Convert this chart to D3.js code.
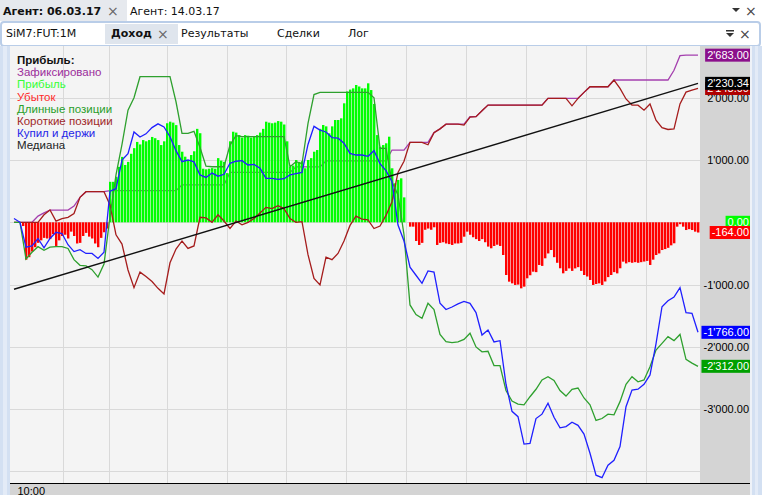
<!DOCTYPE html>
<html><head><meta charset="utf-8">
<script src="https://cdn.jsdelivr.net/npm/d3@7"></script>
<style>html,body{margin:0;padding:0;background:#fff;}svg{display:block;}</style>
</head><body>
<svg id="c" width="762" height="495"></svg>
<script>
// ---------------- DATA ----------------
const tabsTop = ["Агент: 06.03.17", "Агент: 14.03.17"];
const tabsSub = ["SiM7:FUT:1M", "Доход", "Результаты", "Сделки", "Лог"];
const legendTitle = "Прибыль:";
const seriesNames = ["Зафиксировано", "Прибыль", "Убыток", "Длинные позиции", "Короткие позиции", "Купил и держи", "Медиана"];
const seriesColors = ["#9b2d9b", "#33ff33", "#ff2a2a", "#2a9e2a", "#a02828", "#2626e8", "#222222"];
const timeLabels = ["10:00"];
const yTickValues = [2000, 1000, -1000, -2000, -3000];
const yGridValues = [-4000, -3000, -2000, -1000, 0, 1000, 2000];
const xGridIndex = [16.3, 31.7, 51, 71, 90.7, 110.7, 130.7, 150.7, 170.7, 190.7, 210.7];

// profit / loss bars, one per bar index
const barValues = [
0,0,0,-60,-600,-560,-470,-400,-330,-290,
-250,-260,-270,-190,-380,-290,-220,-200,-260,-150,
-220,-340,-330,-220,-170,-230,-260,-340,-400,-250,
-160,-100,650,650,730,890,1050,920,970,1100,
1190,1290,1250,1320,1300,1320,1370,1350,1320,1240,
1300,1590,1615,1600,1560,1240,1133,1053,1000,1080,
1140,1500,1430,860,850,860,870,860,1030,990,
970,790,1300,1454,1440,1400,1360,1400,1390,1360,
1380,1400,1440,1500,1615,1600,1590,1600,1625,1615,
1570,1300,892,910,1000,970,980,867,1000,1030,
1133,1160,1500,1562,1540,1428,1540,1642,1642,1669,
1910,2100,2130,2150,2204,2180,2150,2150,2231,2123,
1900,1400,1213,1240,1268,1374,867,626,680,706,
400,0,-70,-70,-300,-364,-330,-120,-100,-120,
-80,-364,-330,-320,-340,-350,-364,-340,-340,-330,
-231,-150,-200,-240,-270,-300,-270,-320,-390,-417,
-380,-360,-380,-525,-846,-953,-980,-1006,-1000,-1060,
-1033,-899,-850,-793,-800,-685,-700,-578,-500,-445,
-560,-650,-738,-819,-780,-740,-780,-740,-720,-780,
-846,-870,-926,-1006,-990,-980,-1006,-950,-880,-846,
-800,-820,-738,-632,-660,-640,-650,-640,-650,-640,
-630,-620,-685,-600,-525,-500,-445,-430,-410,-370,
-337,-70,-30,-70,-124,-110,-124,-150,-164];

// line series, one value every 2 bar indexes
const lineStep = 2;
const realizedValues = [
0,0,0,0,100,150,197,197,197,197,
260,400,491,491,491,491,507,507,507,507,
507,507,507,507,507,507,507,507,600,600,
600,600,600,600,600,600,800,800,800,800,
800,800,800,800,800,800,800,890,890,890,
890,890,985,985,985,985,985,985,985,985,
985,985,985,1160,1160,1160,1284,1284,1284,1284,
1440,1500,1575,1575,1575,1575,1695,1695,1790,1882,
1882,1882,1882,1882,1882,1882,1882,1882,1882,1990,
1990,1990,1990,1990,1990,2086,2176,2176,2176,2176,
2284,2284,2284,2284,2284,2284,2284,2284,2284,2284,
2440,2674,2683,2683,2683];
const longValues = [
0,0,-590,-480,-391,-450,-400,-391,-391,-420,
-600,-690,-701,-760,-880,-670,90,760,1250,1800,
2000,2337,2337,2337,2337,2337,2337,1935,1428,1428,
1460,1200,900,892,892,892,1240,1390,1374,1374,
1374,1374,1374,1374,1374,1374,892,973,940,1589,
2050,2086,2086,2086,2086,2086,2086,2086,2086,2086,
2000,1188,1188,650,440,-200,-1327,-1480,-1540,-1300,
-1400,-1800,-1916,-1930,-1920,-1880,-1780,-2000,-2080,-2070,
-2300,-2300,-2700,-2870,-2920,-2930,-2800,-2680,-2531,-2478,
-2540,-2700,-2790,-2680,-2660,-2820,-2930,-3180,-3150,-3080,
-3090,-2879,-2600,-2478,-2560,-2530,-2318,-2050,-1943,-1836,
-1900,-1800,-2200,-2260,-2312];
const shortValues = [
0,0,0,0,0,120,197,20,60,80,
140,400,491,491,491,491,278,-200,-350,-766,
-1050,-800,-870,-950,-1060,-1150,-650,-430,-300,-420,
-380,80,70,0,120,20,-100,20,-40,0,
60,150,240,220,266,220,60,0,10,-520,
-900,-1006,-560,-600,-500,-300,-50,100,50,40,
-100,-60,110,330,800,980,1284,1284,1284,1245,
1440,1500,1575,1575,1575,1560,1690,1695,1790,1882,
1882,1882,1882,1882,1882,1882,1882,1882,1882,1990,
1990,1990,1990,1870,1990,2086,2176,2176,2176,2176,
2284,2150,1980,1882,1880,1800,1900,1640,1518,1490,
1500,1900,2090,2120,2148];
const buyHoldValues = [
60,0,-400,-380,-260,-410,-260,-160,-180,-360,
-470,-440,-500,-500,-580,-480,500,540,1000,1100,
1450,1370,1420,1520,1580,1530,1374,1150,973,1000,
970,760,720,790,740,770,947,980,990,920,
930,870,706,706,690,700,760,780,800,1250,
1540,1480,1450,1360,1350,1270,1107,1080,1080,1060,
1150,940,830,652,-43,-300,-720,-850,-979,-780,
-800,-1300,-1400,-1360,-1310,-1270,-1300,-1450,-1809,-1730,
-1920,-1900,-2600,-3035,-3120,-3560,-3550,-3150,-3080,-2905,
-3130,-3300,-3280,-3210,-3260,-3400,-3707,-4060,-4100,-3900,
-3820,-3601,-2960,-2692,-2680,-2600,-2450,-1950,-1355,-1260,
-1200,-1050,-1450,-1460,-1766];
const medianValues = [-1075, 2230.34];

// ---------------- DRAW ----------------
const svg = d3.select("#c");
const W = 762, H = 495;
const plotL = 10, plotR = 700, plotT = 46, plotB = 483;
const x = d3.scaleLinear().domain([0, barValues.length - 1]).range([14, 698]);
const y = d3.scaleLinear().domain([-4185, 2814]).range([483, 47]);
const loc = d3.formatLocale({decimal: ".", thousands: "'", grouping: [3], currency: ["", ""], minus: "-"});
const fmt = loc.format(",.2f");
const tabFont = "DejaVu Sans, Verdana, sans-serif";
const chartFont = "Liberation Sans, Arial, sans-serif";

// window frame
svg.append("rect").attr("x", 0).attr("y", 0).attr("width", W).attr("height", H).attr("fill", "#ffffff");
svg.append("rect").attr("x", 0).attr("y", 0).attr("width", 127).attr("height", 21).attr("fill", "#e6e9ee");
svg.append("text").attr("x", 3).attr("y", 15).attr("font-family", tabFont).attr("font-size", 11).attr("font-weight", "bold").attr("fill", "#111").text(tabsTop[0]);
svg.append("text").attr("x", 107).attr("y", 16).attr("font-family", tabFont).attr("font-size", 14).attr("fill", "#666").text("×");
svg.append("text").attr("x", 130).attr("y", 15).attr("font-family", tabFont).attr("font-size", 11).attr("fill", "#111").text(tabsTop[1]);
svg.append("path").attr("d", "M732,8 L740,8 L736,12 Z").attr("fill", "#333");
svg.append("text").attr("x", 745).attr("y", 16).attr("font-family", tabFont).attr("font-size", 14).attr("fill", "#444").text("×");

// sub tab row
svg.append("rect").attr("x", 1).attr("y", 22).attr("width", 759).attr("height", 24).attr("rx", 3).attr("fill", "#ffffff").attr("stroke", "#b9cde8").attr("stroke-width", 2);
svg.append("rect").attr("x", 105).attr("y", 24).attr("width", 73).attr("height", 20).attr("fill", "#dfe5ed");
const subX = [6, 111, 181, 277, 348];
tabsSub.forEach((t, i) => {
  svg.append("text").attr("x", subX[i]).attr("y", 37).attr("font-family", tabFont).attr("font-size", 11)
    .attr("font-weight", i === 1 ? "bold" : "normal").attr("fill", "#111").text(t);
});
svg.append("text").attr("x", 157).attr("y", 39).attr("font-family", tabFont).attr("font-size", 14).attr("fill", "#666").text("×");
svg.append("rect").attr("x", 726).attr("y", 30).attr("width", 8).attr("height", 1.5).attr("fill", "#333");
svg.append("path").attr("d", "M726,33 L734,33 L730,37 Z").attr("fill", "#333");
svg.append("text").attr("x", 739).attr("y", 39).attr("font-family", tabFont).attr("font-size", 14).attr("fill", "#444").text("×");

// side borders
svg.append("rect").attr("x", 0).attr("y", 46).attr("width", 10).attr("height", H - 46).attr("fill", "#d3e0f2");
svg.append("rect").attr("x", 3).attr("y", 46).attr("width", 4).attr("height", H - 46).attr("fill", "#e3ebf7");
svg.append("rect").attr("x", 750).attr("y", 46).attr("width", 12).attr("height", H - 46).attr("fill", "#d3e0f2");
svg.append("rect").attr("x", 750).attr("y", 46).attr("width", 2).attr("height", H - 46).attr("fill", "#eef2f8");
svg.append("rect").attr("x", 755).attr("y", 46).attr("width", 3).attr("height", H - 46).attr("fill", "#e3ebf7");

// plot background, right panel, bottom band
svg.append("rect").attr("x", plotL).attr("y", plotT).attr("width", plotR - plotL).attr("height", plotB - plotT).attr("fill", "#f4f4f4");
svg.append("rect").attr("x", plotR).attr("y", plotT).attr("width", 750 - plotR).attr("height", plotB - plotT).attr("fill", "#d4d4d4");
svg.append("rect").attr("x", plotL).attr("y", 484).attr("width", 740).attr("height", 11).attr("fill", "#d4d4d4");
svg.append("line").attr("x1", plotL).attr("x2", 750).attr("y1", 483.5).attr("y2", 483.5).attr("stroke", "#000").attr("stroke-width", 1);

svg.append("defs").append("clipPath").attr("id", "clip").append("rect")
  .attr("x", plotL).attr("y", plotT).attr("width", plotR - plotL).attr("height", plotB - plotT);
const plot = svg.append("g").attr("clip-path", "url(#clip)");

// grid
plot.selectAll(".gy").data(yGridValues).enter().append("line")
  .attr("x1", plotL).attr("x2", plotR)
  .attr("y1", d => Math.round(y(d)) + 0.5).attr("y2", d => Math.round(y(d)) + 0.5)
  .attr("stroke", "#d9d9d9").attr("stroke-width", 1);
plot.selectAll(".gx").data(xGridIndex).enter().append("line")
  .attr("y1", plotT).attr("y2", plotB)
  .attr("x1", d => Math.round(x(d)) + 0.5).attr("x2", d => Math.round(x(d)) + 0.5)
  .attr("stroke", "#d9d9d9").attr("stroke-width", 1);

const lineGen = d3.line().x((d, j) => x(j * lineStep)).y(d => y(d));

// realized line (behind bars)
plot.append("path").datum(realizedValues).attr("d", lineGen).attr("fill", "none")
  .attr("stroke", "#a43fae").attr("stroke-width", 1.3);

// bars
plot.selectAll(".bar").data(barValues).enter().append("rect")
  .attr("x", (d, i) => x(i) - 1).attr("width", 2.4)
  .attr("y", d => Math.min(y(d), y(0)))
  .attr("height", d => Math.abs(y(d) - y(0)))
  .attr("fill", d => d >= 0 ? "#00ff00" : "#ff0000");

// lines
plot.append("path").datum(shortValues).attr("d", lineGen).attr("fill", "none")
  .attr("stroke", "#a51c1c").attr("stroke-width", 1.3);
plot.append("path").datum(longValues).attr("d", lineGen).attr("fill", "none")
  .attr("stroke", "#2ea02e").attr("stroke-width", 1.3);
plot.append("path").datum(buyHoldValues).attr("d", lineGen).attr("fill", "none")
  .attr("stroke", "#1f1fff").attr("stroke-width", 1.3);
plot.append("path").datum(medianValues)
  .attr("d", d3.line().x((d, j) => x(j * (barValues.length - 1))).y(d => y(d)))
  .attr("fill", "none").attr("stroke", "#111").attr("stroke-width", 1.4);

// legend
const lg = svg.append("g").attr("font-family", chartFont).attr("font-size", 11.5);
lg.append("text").attr("x", 17).attr("y", 64).attr("font-weight", "bold").attr("fill", "#111").text(legendTitle);
seriesNames.forEach((n, i) => {
  lg.append("text").attr("x", 17).attr("y", 76.2 + i * 12.15).attr("fill", seriesColors[i]).text(n);
});

// right axis
const yAxis = d3.axisLeft(y).tickValues(yTickValues).tickFormat(fmt).tickSize(0).tickPadding(1);
const ya = svg.append("g").attr("transform", "translate(750,0)").call(yAxis);
ya.select(".domain").remove();
ya.selectAll("text").attr("font-family", chartFont).attr("font-size", 11).attr("fill", "#000");

// bottom axis
const xAxis = d3.axisBottom(x).tickValues([0]).tickFormat(() => timeLabels[0]).tickSize(0).tickPadding(3);
const xa = svg.append("g").attr("transform", "translate(0,484)").call(xAxis);
xa.select(".domain").remove();
xa.selectAll("text").attr("font-family", chartFont).attr("font-size", 11).attr("fill", "#000")
  .attr("text-anchor", "start").attr("dx", 3);

// value tags on the right axis
const lastBar = barValues[barValues.length - 1];
const tags = [
  {v: realizedValues[realizedValues.length - 1], bg: "#8b0f8b"},
  {v: shortValues[shortValues.length - 1], bg: "#b00000"},
  {v: medianValues[1], bg: "#000000"},
  {v: Math.max(0, lastBar), bg: "#00ff00"},
  {v: Math.min(0, lastBar), bg: "#ff0000"},
  {v: buyHoldValues[buyHoldValues.length - 1], bg: "#0000ff"},
  {v: longValues[longValues.length - 1], bg: "#00a000"}
];
const tg = svg.append("g").attr("font-family", chartFont).attr("font-size", 11);
tags.forEach(t => {
  const g = tg.append("g");
  const r = g.append("rect").attr("fill", t.bg);
  const tx = g.append("text").attr("x", 749).attr("y", y(t.v)).attr("dy", "0.35em")
    .attr("text-anchor", "end").attr("fill", "#fff").text(fmt(t.v));
  const w = tx.node().getComputedTextLength();
  r.attr("x", 749 - w - 2).attr("width", w + 3).attr("y", y(t.v) - 6.5).attr("height", 13);
});
</script>
</body></html>
